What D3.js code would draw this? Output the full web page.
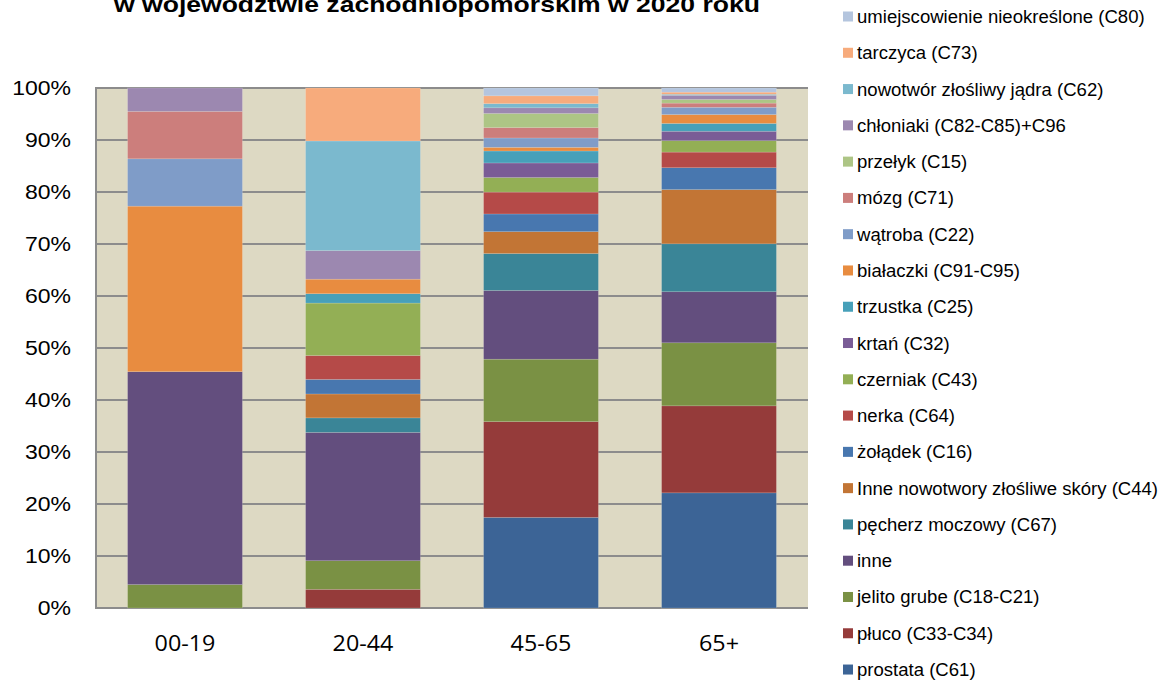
<!DOCTYPE html>
<html>
<head>
<meta charset="utf-8">
<script src="https://cdn.jsdelivr.net/npm/d3@7"></script>
<style>
  body { margin: 0; background: #fff; }
  svg { display: block; }
</style>
</head>
<body>
<div id="chart"></div>
<script>
// age groups (x axis)
var ageGroups = ["00-19", "20-44", "45-65", "65+"];

// series, in stacking order (bottom -> top)
var seriesNames = [
  "prostata (C61)", "płuco (C33-C34)", "jelito grube (C18-C21)", "inne",
  "pęcherz moczowy (C67)", "Inne nowotwory złośliwe skóry (C44)", "żołądek (C16)",
  "nerka (C64)", "czerniak (C43)", "krtań (C32)", "trzustka (C25)",
  "białaczki (C91-C95)", "wątroba (C22)", "mózg (C71)", "przełyk (C15)",
  "chłoniaki (C82-C85)+C96", "nowotwór złośliwy jądra (C62)", "tarczyca (C73)",
  "umiejscowienie nieokreślone (C80)"
];
var seriesColors = [
  "#3c6496", "#953b3a", "#7a9144", "#634e7e",
  "#3a8597", "#c27535", "#4877af",
  "#b54a48", "#93af55", "#7a5c96", "#47a0b9",
  "#e88c40", "#7f9cc8", "#cc7e7c", "#adc585",
  "#9c88b0", "#7bb9ce", "#f7ab7c",
  "#b4c5de"
];

// percent shares per age group, same order as seriesNames
var v0019 = [0, 0, 4.5, 40.9, 0, 0, 0, 0, 0, 0, 0, 31.8, 9.1, 9.1, 0, 4.5, 0, 0, 0];
var v2044 = [0, 3.6, 5.5, 24.7, 2.8, 4.6, 2.8, 4.6, 10.1, 0, 1.8, 2.8, 0, 0, 0, 5.5, 21.1, 10.2, 0];
var v4565 = [17.4, 18.4, 12.0, 13.2, 7.1, 4.2, 3.4, 4.2, 2.8, 2.8, 2.3, 0.7, 1.8, 2.0, 2.7, 1.1, 0.8, 1.5, 1.5];
var v65   = [22.1, 16.7, 12.1, 9.8, 9.2, 10.4, 4.2, 3.0, 2.2, 1.8, 1.5, 1.7, 1.4, 0.8, 0.7, 0.8, 0.2, 0.4, 0.8];

var yTicks = [0, 0.1, 0.2, 0.3, 0.4, 0.5, 0.6, 0.7, 0.8, 0.9, 1];

var W = 1166, H = 682;
var svg = d3.select("#chart").append("svg").attr("width", W).attr("height", H);

// the original picture is a bit stretched sideways; widen text to match
function stretch(sel, k) {
  sel.each(function () {
    var w = this.getComputedTextLength();
    d3.select(this).attr("textLength", w * k).attr("lengthAdjust", "spacingAndGlyphs");
  });
}

// build rows for d3.stack
var allVals = [v0019, v2044, v4565, v65];
var rows = ageGroups.map(function (g, i) {
  var r = { group: g };
  seriesNames.forEach(function (s, j) { r[s] = allVals[i][j]; });
  return r;
});

var stack = d3.stack().keys(seriesNames).offset(d3.stackOffsetExpand);
var layers = stack(rows);

var x = d3.scaleBand().domain(ageGroups).range([96, 808]).paddingInner(0.355).paddingOuter(0.1775);
var y = d3.scaleLinear().domain([0, 1]).range([608, 88]);
var color = d3.scaleOrdinal().domain(seriesNames).range(seriesColors);

// plot background
svg.append("rect")
  .attr("x", 96).attr("y", 88).attr("width", 712).attr("height", 520)
  .attr("fill", "#ddd9c3");

// gridlines
svg.append("g")
  .selectAll("line")
  .data(yTicks)
  .enter().append("line")
  .attr("x1", 96).attr("x2", 808)
  .attr("y1", function (d) { return y(d); })
  .attr("y2", function (d) { return y(d); })
  .attr("stroke", "#8c8c8c")
  .attr("stroke-width", 2);

// left axis line
svg.append("line")
  .attr("x1", 96).attr("x2", 96).attr("y1", 87).attr("y2", 609)
  .attr("stroke", "#8c8c8c").attr("stroke-width", 2);

// bars
svg.append("g")
  .selectAll("g")
  .data(layers)
  .enter().append("g")
  .attr("fill", function (d) { return color(d.key); })
  .selectAll("rect")
  .data(function (d) { return d; })
  .enter().append("rect")
  .attr("x", function (d) { return x(d.data.group); })
  .attr("width", x.bandwidth())
  .attr("y", function (d) { return y(d[1]); })
  .attr("height", function (d) { return y(d[0]) - y(d[1]); })
  .attr("stroke", "rgba(255,255,255,0.25)")
  .attr("stroke-width", 0.6);

// y axis labels
var yAxis = d3.axisLeft(y).tickValues(yTicks).tickFormat(d3.format(".0%")).tickSize(0).tickPadding(25);
var gy = svg.append("g").attr("transform", "translate(96,0)").call(yAxis);
gy.select(".domain").remove();
gy.selectAll("text")
  .attr("font-family", "Liberation Sans, Arial, sans-serif")
  .attr("font-size", 19.5)
  .attr("fill", "#000")
  .call(stretch, 1.18);

// x axis labels
var xAxis = d3.axisBottom(x).tickSize(0).tickPadding(27);
var gx = svg.append("g").attr("transform", "translate(0,608)").call(xAxis);
gx.select(".domain").remove();
gx.selectAll("text")
  .attr("font-family", "Open Sans, sans-serif")
  .attr("font-size", 22)
  .attr("fill", "#000")
  .call(stretch, 1.06);

// title (first line falls outside the picture, as in the original)
svg.append("text")
  .attr("x", 437).attr("y", 12)
  .attr("text-anchor", "middle")
  .attr("font-family", "Liberation Sans, Arial, sans-serif")
  .attr("font-weight", "bold")
  .attr("font-size", 22)
  .attr("textLength", 646)
  .attr("lengthAdjust", "spacingAndGlyphs")
  .text("w województwie zachodniopomorskim w 2020 roku");

// legend (top entry = last series)
var legendItems = seriesNames.slice().reverse();
var leg = svg.append("g")
  .selectAll("g")
  .data(legendItems)
  .enter().append("g")
  .attr("transform", function (d, i) { return "translate(843," + (16.5 + i * 36.28) + ")"; });
leg.append("rect")
  .attr("x", 0).attr("y", -5).attr("width", 10).attr("height", 10)
  .attr("fill", function (d) { return color(d); });
leg.append("text")
  .attr("x", 14).attr("y", 6.5)
  .attr("font-family", "Liberation Sans, Arial, sans-serif")
  .attr("font-size", 17.5)
  .attr("fill", "#000")
  .text(function (d) { return d; })
  .call(stretch, 1.06);
</script>
</body>
</html>
